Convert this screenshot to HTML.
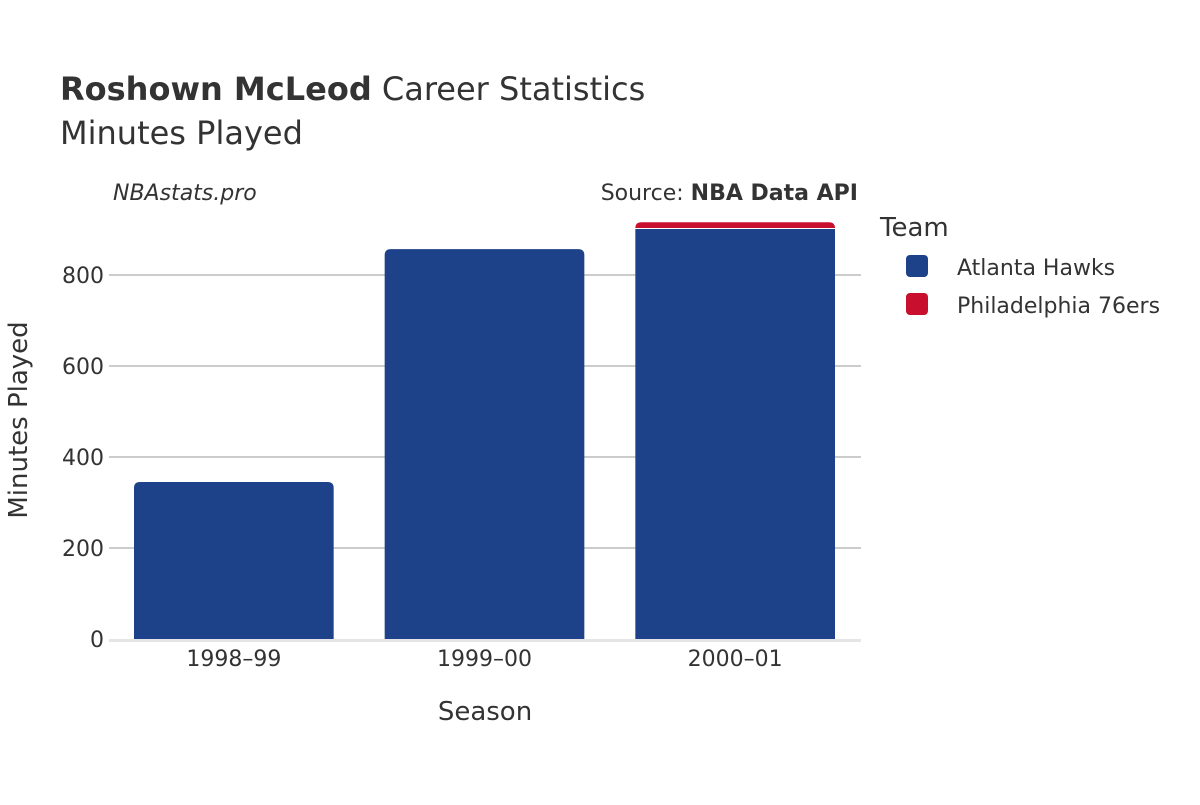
<!DOCTYPE html>
<html><head><meta charset="utf-8"><style>
body{margin:0;background:#fff;font-family:"Liberation Sans","DejaVu Sans",sans-serif;}
</style></head><body>
<svg id="chart" width="1200" height="800" xmlns="http://www.w3.org/2000/svg" font-family="DejaVu Sans, Liberation Sans, sans-serif">
<text x="60" y="100" font-size="32" fill="#333"><tspan font-weight="bold">Roshown McLeod</tspan> Career Statistics</text>
<text x="60" y="144" font-size="32" fill="#333">Minutes Played</text>
<text x="113" y="200" font-size="22" font-style="italic" fill="#333">NBAstats.pro</text>
<text x="858" y="200" font-size="22" text-anchor="end" fill="#333">Source: <tspan font-weight="bold">NBA Data API</tspan></text>
<g id="grid"></g>
<g id="bars"></g>
<g id="xticks"></g>
<text x="485" y="720" font-size="26" text-anchor="middle" fill="#333">Season</text>
<text transform="translate(27,420) rotate(-90)" font-size="26" text-anchor="middle" fill="#333">Minutes Played</text>
<text x="880" y="236" font-size="26" fill="#333">Team</text>
<g><rect x="906" y="255" width="22" height="22" rx="4" fill="#1d428a"/><text x="957" y="275" font-size="22" fill="#333">Atlanta Hawks</text></g>
<g><rect x="906" y="293" width="22" height="22" rx="4" fill="#c8102e"/><text x="957" y="313" font-size="22" fill="#333">Philadelphia 76ers</text></g>
</svg>
<script>
const seasons=["1998–99","1999–00","2000–01"];
const atlanta=[345,857,901];
const philly=[0,0,15];
const yTicks=[0,200,400,600,800];
const ns="http://www.w3.org/2000/svg";
const x0=109,x1=861,yBase=639,k=0.455;
const y=v=>yBase-v*k;
const band=(x1-x0)/seasons.length;
const bx=i=>x0+band*i+25;
const bw=band-51;
function mk(t,a,p){const e=document.createElementNS(ns,t);for(const n in a)e.setAttribute(n,a[n]);p.appendChild(e);return e;}
const grid=document.getElementById('grid');
yTicks.forEach(v=>{
  if(v>0){const l=mk('line',{x1:x0,x2:x1,y1:y(v),y2:y(v),stroke:'#999','stroke-width':1},grid);
  
  }
  const t=mk('text',{x:104,y:y(v)+8,'font-size':22,'text-anchor':'end',fill:'#333'},grid);
  
  
  t.textContent=v;
});
const base=mk('line',{x1:x0,x2:x1,y1:yBase+1.5,y2:yBase+1.5,stroke:'#e5e5e8','stroke-width':3},grid);


const bars=document.getElementById('bars');
function rbar(x,yt,w,h,fill,top){
  const r=top?6:0;
  const d=`M${x},${yt+h} V${yt+r} Q${x},${yt} ${x+r},${yt} H${x+w-r} Q${x+w},${yt} ${x+w},${yt+r} V${yt+h} Z`;
  return mk('path',{d:d,fill:fill},bars);
}
seasons.forEach((s,i)=>{
  const hasP=philly[i]>0;
  const a=rbar(bx(i),y(atlanta[i]),bw,atlanta[i]*k,'#1d428a',!hasP);
  
  
  if(hasP){
    const p=rbar(bx(i),y(atlanta[i]+philly[i]),bw,philly[i]*k-1,'#c8102e',true);
    
    
  }
  const t=mk('text',{x:bx(i)+bw/2,y:666,'font-size':22,'text-anchor':'middle',fill:'#333'},document.getElementById('xticks'));
  
  
  t.textContent=s;
});
</script>
</body></html>
